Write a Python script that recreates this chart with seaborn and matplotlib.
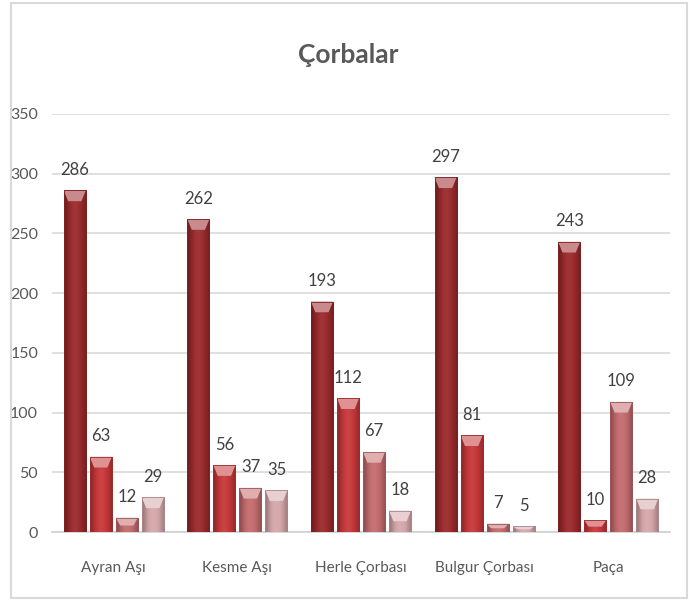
import numpy as np
import pandas as pd
import matplotlib
matplotlib.use("Agg")
import matplotlib.pyplot as plt
import matplotlib.colors as mcolors
from matplotlib.patches import Polygon, Rectangle
import seaborn as sns

# Soup categories and the four series of counts
categories = ["Ayran Aşı", "Kesme Aşı", "Herle Çorbası", "Bulgur Çorbası", "Paça"]
series_names = ["Seri 1", "Seri 2", "Seri 3", "Seri 4"]
series_1 = [286, 262, 193, 297, 243]
series_2 = [63, 56, 112, 81, 10]
series_3 = [12, 37, 67, 7, 109]
series_4 = [29, 35, 18, 5, 28]
y_ticks = [0, 50, 100, 150, 200, 250, 300, 350]

palette = ["#9B2A2C", "#C7383A", "#C46C6E", "#D6A8AA"]

rows = []
for name, vals in zip(series_names, [series_1, series_2, series_3, series_4]):
    for cat, v in zip(categories, vals):
        rows.append({"Çorba": cat, "Seri": name, "Adet": v})
df = pd.DataFrame(rows)

sns.set_theme(style="white")
plt.rcParams["font.family"] = ["Lato", "DejaVu Sans"]

fig = plt.figure(figsize=(6.97, 6.01), dpi=100)
ax = fig.add_axes([52 / 697, 69 / 601, 618 / 697, 418 / 601])

sns.barplot(data=df, x="Çorba", y="Adet", hue="Seri", order=categories,
            hue_order=series_names, palette=palette, width=0.842, gap=0.15,
            saturation=1, errorbar=None, ax=ax, legend=False, zorder=3)

ax.set_ylim(0, 350)
ax.set_xlim(-0.5, len(categories) - 0.5)
ax.set_yticks(y_ticks)
ax.yaxis.grid(True, color="#D9D9D9", linewidth=1.2, zorder=0)
ax.set_axisbelow(True)
for side in ["top", "right", "left"]:
    ax.spines[side].set_visible(False)
ax.spines["bottom"].set_color("#D0D0D0")
ax.spines["bottom"].set_linewidth(1.2)
ax.tick_params(axis="x", length=0, pad=21, labelsize=11, labelcolor="#595959")
ax.tick_params(axis="y", length=0, pad=10, labelsize=11.5, labelcolor="#595959")
ax.set_xlabel("")
ax.set_ylabel("")


def shade(color, f):
    rgb = np.array(mcolors.to_rgb(color))
    if f >= 1:
        return tuple(rgb + (1 - rgb) * (f - 1))
    return tuple(rgb * f)


# Bevelled look: horizontal gradient body plus a lighter top face
profile = np.array([0.72, 0.85, 0.97, 1.04, 1.06, 1.03, 0.97, 0.88, 0.76])
for container, color in zip(ax.containers, palette):
    for bar in container:
        x0, w, h = bar.get_x(), bar.get_width(), bar.get_height()
        if h <= 0:
            continue
        grad = np.array([[shade(color, f) for f in profile]])
        bar.set_facecolor("none")
        bar.set_edgecolor("none")
        img = ax.imshow(grad, extent=[x0, x0 + w, 0, h], aspect="auto",
                        interpolation="bicubic", zorder=3)
        img.set_clip_path(bar)
        bev = min(9.0, h * 0.55)
        inset = w * 0.2
        top = Polygon([[x0, h], [x0 + w, h], [x0 + w - inset, h - bev],
                       [x0 + inset, h - bev]], closed=True,
                      facecolor=shade(color, 1.45), edgecolor="none", zorder=4)
        ax.add_patch(top)
        ax.add_patch(Rectangle((x0, 0), w, h, facecolor="none",
                               edgecolor=shade(color, 0.8), linewidth=0.6,
                               zorder=5))

# Value labels above each bar
for container in ax.containers:
    for bar in container:
        h = bar.get_height()
        ax.annotate(f"{int(round(h))}", (bar.get_x() + bar.get_width() / 2, h),
                    xytext=(0, 9), textcoords="offset points",
                    ha="center", va="bottom", fontsize=12, color="#404040",
                    zorder=6)

fig.text(0.5, 1 - 55 / 601, "Çorbalar", ha="center", va="center",
         fontsize=19, fontweight="bold", color="#595959")

fig.patches.append(Rectangle((11 / 697, 3 / 601), 676 / 697, 595 / 601,
                             transform=fig.transFigure, fill=False,
                             edgecolor="#D9D9D9", linewidth=1.5))

fig.savefig("out.png", dpi=100, facecolor="white")
